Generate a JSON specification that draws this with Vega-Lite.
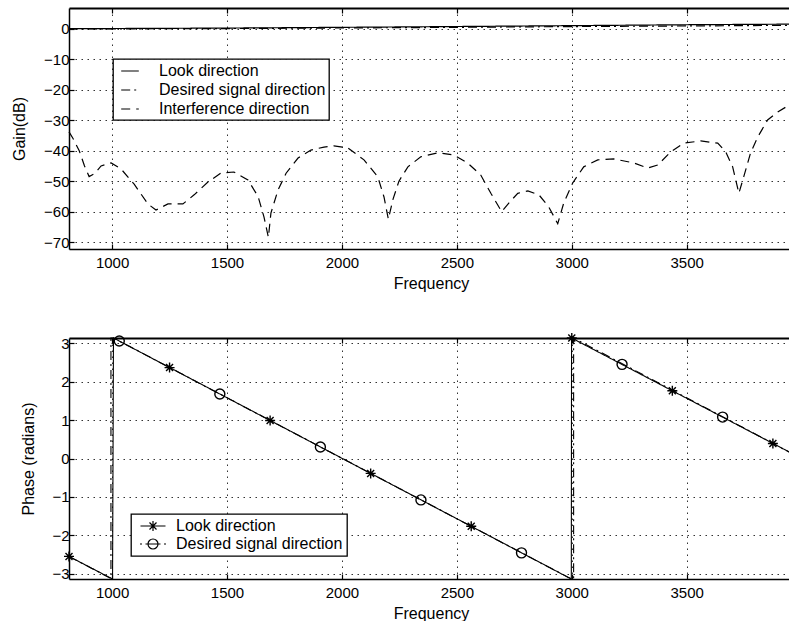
{
  "$schema": "https://vega.github.io/schema/vega-lite/v6.json",
  "background": "white",
  "padding": {"left": 11, "top": 7, "right": 0, "bottom": 0},
  "spacing": 39,
  "resolve": {"scale": {"strokeDash": "independent", "shape": "independent", "y": "independent"}, "legend": {"strokeDash": "independent", "shape": "independent"}},
  "config": {
    "font": "Liberation Sans",
    "view": {"stroke": null},
    "axis": {
      "domainColor": "black", "domainWidth": 1.5,
      "tickColor": "black", "tickSize": -5, "tickWidth": 1.2,
      "labelColor": "black", "labelFont": "Liberation Sans", "labelFontSize": 15, "labelPadding": 5, "labelOverlap": false, "labelSeparation": 0,
      "titleFont": "Liberation Sans", "titleFontSize": 16, "titleFontWeight": "normal", "titleColor": "black",
      "gridColor": "black", "gridDash": [1.5, 4.5], "gridOpacity": 0.8, "gridWidth": 1
    },
    "axisX": {"labelPadding": 11},
    "legend": {"labelFont": "Liberation Sans", "labelFontSize": 16, "labelColor": "black", "labelLimit": 400, "strokeColor": "black", "fillColor": "white", "cornerRadius": 0, "strokeWidth": 1.3}
  },
  "datasets": {
    "gainNear0": [
      {"f": 812.5, "g": 0.1, "s": "Look direction"},
      {"f": 1500, "g": 0.3, "s": "Look direction"},
      {"f": 2300, "g": 0.7, "s": "Look direction"},
      {"f": 3000, "g": 1.1, "s": "Look direction"},
      {"f": 3500, "g": 1.4, "s": "Look direction"},
      {"f": 3962.5, "g": 1.6, "s": "Look direction"},
      {"f": 812.5, "g": 0.0, "s": "Desired signal direction"},
      {"f": 1500, "g": 0.15, "s": "Desired signal direction"},
      {"f": 2300, "g": 0.45, "s": "Desired signal direction"},
      {"f": 3000, "g": 0.8, "s": "Desired signal direction"},
      {"f": 3500, "g": 1.0, "s": "Desired signal direction"},
      {"f": 3962.5, "g": 1.2, "s": "Desired signal direction"}
    ],
    "gainInterf": [
      {"f": 812.5, "g": -33.8, "s": "Interference direction"},
      {"f": 830, "g": -36, "s": "Interference direction"},
      {"f": 857, "g": -40, "s": "Interference direction"},
      {"f": 880, "g": -45, "s": "Interference direction"},
      {"f": 900, "g": -48.5, "s": "Interference direction"},
      {"f": 925, "g": -47.5, "s": "Interference direction"},
      {"f": 952, "g": -45, "s": "Interference direction"},
      {"f": 996, "g": -44, "s": "Interference direction"},
      {"f": 1039, "g": -46, "s": "Interference direction"},
      {"f": 1096, "g": -51, "s": "Interference direction"},
      {"f": 1156, "g": -57.5, "s": "Interference direction"},
      {"f": 1191, "g": -59.5, "s": "Interference direction"},
      {"f": 1243, "g": -57.5, "s": "Interference direction"},
      {"f": 1308, "g": -57.5, "s": "Interference direction"},
      {"f": 1357, "g": -54.5, "s": "Interference direction"},
      {"f": 1417, "g": -50.3, "s": "Interference direction"},
      {"f": 1474, "g": -47.3, "s": "Interference direction"},
      {"f": 1530, "g": -47, "s": "Interference direction"},
      {"f": 1591, "g": -49.6, "s": "Interference direction"},
      {"f": 1635, "g": -55, "s": "Interference direction"},
      {"f": 1661, "g": -61.8, "s": "Interference direction"},
      {"f": 1680, "g": -68.5, "s": "Interference direction"},
      {"f": 1691, "g": -60.5, "s": "Interference direction"},
      {"f": 1722, "g": -52.9, "s": "Interference direction"},
      {"f": 1757, "g": -47.4, "s": "Interference direction"},
      {"f": 1809, "g": -42.4, "s": "Interference direction"},
      {"f": 1865, "g": -39.8, "s": "Interference direction"},
      {"f": 1922, "g": -38.8, "s": "Interference direction"},
      {"f": 1965, "g": -38.4, "s": "Interference direction"},
      {"f": 2026, "g": -39.1, "s": "Interference direction"},
      {"f": 2096, "g": -43, "s": "Interference direction"},
      {"f": 2156, "g": -48.6, "s": "Interference direction"},
      {"f": 2183, "g": -55.2, "s": "Interference direction"},
      {"f": 2202, "g": -62.5, "s": "Interference direction"},
      {"f": 2222, "g": -56, "s": "Interference direction"},
      {"f": 2248, "g": -50, "s": "Interference direction"},
      {"f": 2287, "g": -45.3, "s": "Interference direction"},
      {"f": 2343, "g": -42, "s": "Interference direction"},
      {"f": 2417, "g": -40.7, "s": "Interference direction"},
      {"f": 2487, "g": -41.4, "s": "Interference direction"},
      {"f": 2548, "g": -44.1, "s": "Interference direction"},
      {"f": 2604, "g": -48, "s": "Interference direction"},
      {"f": 2648, "g": -54, "s": "Interference direction"},
      {"f": 2695, "g": -60, "s": "Interference direction"},
      {"f": 2726, "g": -57.2, "s": "Interference direction"},
      {"f": 2765, "g": -54, "s": "Interference direction"},
      {"f": 2809, "g": -53.2, "s": "Interference direction"},
      {"f": 2857, "g": -54.5, "s": "Interference direction"},
      {"f": 2900, "g": -58.5, "s": "Interference direction"},
      {"f": 2939, "g": -64, "s": "Interference direction"},
      {"f": 2965, "g": -57.2, "s": "Interference direction"},
      {"f": 3004, "g": -50.6, "s": "Interference direction"},
      {"f": 3052, "g": -45.3, "s": "Interference direction"},
      {"f": 3113, "g": -43, "s": "Interference direction"},
      {"f": 3183, "g": -42.7, "s": "Interference direction"},
      {"f": 3270, "g": -44, "s": "Interference direction"},
      {"f": 3330, "g": -45.7, "s": "Interference direction"},
      {"f": 3374, "g": -44.7, "s": "Interference direction"},
      {"f": 3430, "g": -40.4, "s": "Interference direction"},
      {"f": 3487, "g": -37.5, "s": "Interference direction"},
      {"f": 3561, "g": -36.8, "s": "Interference direction"},
      {"f": 3635, "g": -37.5, "s": "Interference direction"},
      {"f": 3670, "g": -40.4, "s": "Interference direction"},
      {"f": 3700, "g": -45.3, "s": "Interference direction"},
      {"f": 3727, "g": -54, "s": "Interference direction"},
      {"f": 3748, "g": -48.6, "s": "Interference direction"},
      {"f": 3778, "g": -40.7, "s": "Interference direction"},
      {"f": 3809, "g": -35.5, "s": "Interference direction"},
      {"f": 3852, "g": -29.9, "s": "Interference direction"},
      {"f": 3896, "g": -27.3, "s": "Interference direction"},
      {"f": 3939, "g": -25.3, "s": "Interference direction"},
      {"f": 3962.5, "g": -24.5, "s": "Interference direction"}
    ],
    "phaseLines": [
      {"f": 812.5, "p": -2.553, "s": "Look direction", "o": 1},
      {"f": 1002, "p": -3.1416, "s": "Look direction", "o": 2},
      {"f": 1006, "p": 3.1416, "s": "Look direction", "o": 3},
      {"f": 2998, "p": -3.1416, "s": "Look direction", "o": 4},
      {"f": 2999, "p": 3.1416, "s": "Look direction", "o": 5},
      {"f": 3962.5, "p": 0.118, "s": "Look direction", "o": 6},
      {"f": 812.5, "p": -2.553, "s": "Desired signal direction", "o": 1},
      {"f": 995, "p": -3.13, "s": "Desired signal direction", "o": 2},
      {"f": 995, "p": 3.1416, "s": "Desired signal direction", "o": 3},
      {"f": 1006, "p": 3.1416, "s": "Desired signal direction", "o": 4},
      {"f": 2998, "p": -3.1416, "s": "Desired signal direction", "o": 5},
      {"f": 3008, "p": -3.1416, "s": "Desired signal direction", "o": 6},
      {"f": 3008, "p": 3.1416, "s": "Desired signal direction", "o": 7},
      {"f": 3962.5, "p": 0.118, "s": "Desired signal direction", "o": 8}
    ],
    "markers": [
      {"f": 812.5, "p": -2.553, "s": "Look direction"},
      {"f": 1250, "p": 2.37, "s": "Look direction"},
      {"f": 1687.5, "p": 0.99, "s": "Look direction"},
      {"f": 2125, "p": -0.388, "s": "Look direction"},
      {"f": 2562.5, "p": -1.768, "s": "Look direction"},
      {"f": 3000, "p": 3.1416, "s": "Look direction"},
      {"f": 3437.5, "p": 1.767, "s": "Look direction"},
      {"f": 3875, "p": 0.393, "s": "Look direction"},
      {"f": 1031.25, "p": 3.062, "s": "Desired signal direction"},
      {"f": 1468.75, "p": 1.681, "s": "Desired signal direction"},
      {"f": 1906.25, "p": 0.301, "s": "Desired signal direction"},
      {"f": 2343.75, "p": -1.08, "s": "Desired signal direction"},
      {"f": 2781.25, "p": -2.46, "s": "Desired signal direction"},
      {"f": 3218.75, "p": 2.454, "s": "Desired signal direction"},
      {"f": 3656.25, "p": 1.08, "s": "Desired signal direction"}
    ]
  },
  "vconcat": [
    {
      "width": 724,
      "height": 241,
      "resolve": {"axis": {"x": "independent"}},
      "layer": [
        {
          "data": {"name": "gainNear0"},
          "mark": {"type": "line", "color": "black", "strokeWidth": 1.2},
          "encoding": {
            "x": {"field": "f", "type": "quantitative", "scale": {"domain": [812.5, 3962.5], "nice": false, "zero": false},
                  "axis": {"orient": "bottom", "values": [1000, 1500, 2000, 2500, 3000, 3500], "format": "d", "grid": true, "title": "Frequency", "titlePadding": 5}},
            "y": {"field": "g", "type": "quantitative", "scale": {"domain": [-72.3, 6.9], "nice": false, "zero": false},
                  "axis": {"values": [-70, -60, -50, -40, -30, -20, -10, 0], "grid": true, "title": "Gain(dB)", "titlePadding": 16, "labelOverlap": false, "labelSeparation": 0, "labelBound": false}},
            "strokeDash": {"field": "s", "type": "nominal",
                  "scale": {"domain": ["Look direction", "Desired signal direction", "Interference direction"], "range": [[1, 0], [9, 4, 2, 4], [9, 6]]},
                  "legend": {"title": null, "orient": "none", "legendX": 44, "legendY": 51, "padding": 3, "symbolSize": 256, "symbolType": "M-1.1,0L1.1,0", "symbolStrokeColor": "black", "symbolStrokeWidth": 1.2, "symbolOffset": 5, "labelOffset": 20, "rowPadding": 2}}
          }
        },
        {
          "data": {"name": "gainInterf"},
          "mark": {"type": "line", "color": "black", "strokeWidth": 1.2},
          "encoding": {
            "x": {"field": "f", "type": "quantitative", "axis": {"orient": "top", "values": [1000, 1500, 2000, 2500, 3000, 3500], "labels": false, "grid": false, "title": null, "domainWidth": 2}},
            "y": {"field": "g", "type": "quantitative",
                  "axis": {"values": [-70, -60, -50, -40, -30, -20, -10, 0], "grid": true, "title": "Gain(dB)", "titlePadding": 16, "labelOverlap": false, "labelSeparation": 0, "labelBound": false}},
            "strokeDash": {"field": "s", "type": "nominal"}
          }
        }
      ]
    },
    {
      "width": 724,
      "height": 241,
      "resolve": {"axis": {"x": "independent"}, "scale": {"shape": "independent"}},
      "layer": [
        {
          "data": {"name": "phaseLines"},
          "mark": {"type": "line", "color": "black", "strokeWidth": 1.1},
          "encoding": {
            "x": {"field": "f", "type": "quantitative", "scale": {"domain": [812.5, 3962.5], "nice": false, "zero": false},
                  "axis": {"orient": "bottom", "values": [1000, 1500, 2000, 2500, 3000, 3500], "format": "d", "grid": true, "title": "Frequency", "titlePadding": 5}},
            "y": {"field": "p", "type": "quantitative", "scale": {"domain": [-3.1416, 3.1416], "nice": false, "zero": false},
                  "axis": {"values": [-3, -2, -1, 0, 1, 2, 3], "grid": true, "title": "Phase (radians)", "titlePadding": 15, "labelOverlap": false, "labelBound": false}},
            "strokeDash": {"field": "s", "type": "nominal",
                  "scale": {"domain": ["Look direction", "Desired signal direction"], "range": [[1, 0], [9, 4, 2, 4]]}, "legend": null},
            "order": {"field": "o", "type": "quantitative"}
          }
        },
        {
          "data": {"name": "markers"},
          "mark": {"type": "point", "filled": false, "stroke": "black", "strokeWidth": 1.4, "size": 100, "opacity": 1},
          "encoding": {
            "x": {"field": "f", "type": "quantitative", "axis": null},
            "y": {"field": "p", "type": "quantitative"},
            "shape": {"field": "s", "type": "nominal",
                  "scale": {"domain": ["Look direction", "Desired signal direction"], "range": ["M-1,0L1,0M0,-1L0,1M-0.7,-0.7L0.7,0.7M-0.7,0.7L0.7,-0.7", "circle"]}, "legend": null}
          }
        },
        {
          "data": {"name": "markers"},
          "mark": {"type": "point", "filled": false, "stroke": "black", "strokeWidth": 1.2, "size": 100, "opacity": 0},
          "encoding": {
            "x": {"field": "f", "type": "quantitative", "axis": {"orient": "top", "values": [1000, 1500, 2000, 2500, 3000, 3500], "labels": false, "grid": false, "title": null, "domainWidth": 2}},
            "y": {"field": "p", "type": "quantitative"},
            "shape": {"field": "s", "type": "nominal",
                  "scale": {"domain": ["Look direction", "Desired signal direction"], "range": ["M-2.5,0L2.5,0M0,-1L0,1M-0.7,-0.7L0.7,0.7M-0.7,0.7L0.7,-0.7", "M-2.6,0L-2.2,0M-1.5,0L1.5,0M2.2,0L2.6,0M1,0A1,1,0,1,1,-1,0A1,1,0,1,1,1,0"]},
                  "legend": {"title": null, "orient": "none", "legendX": 62, "legendY": 176, "padding": 4, "symbolOpacity": 1, "symbolStrokeColor": "black", "symbolStrokeWidth": 1.2, "symbolFillColor": "transparent", "symbolOffset": 10, "labelOffset": 15, "rowPadding": 2}}
          }
        }
      ]
    }
  ]
}
